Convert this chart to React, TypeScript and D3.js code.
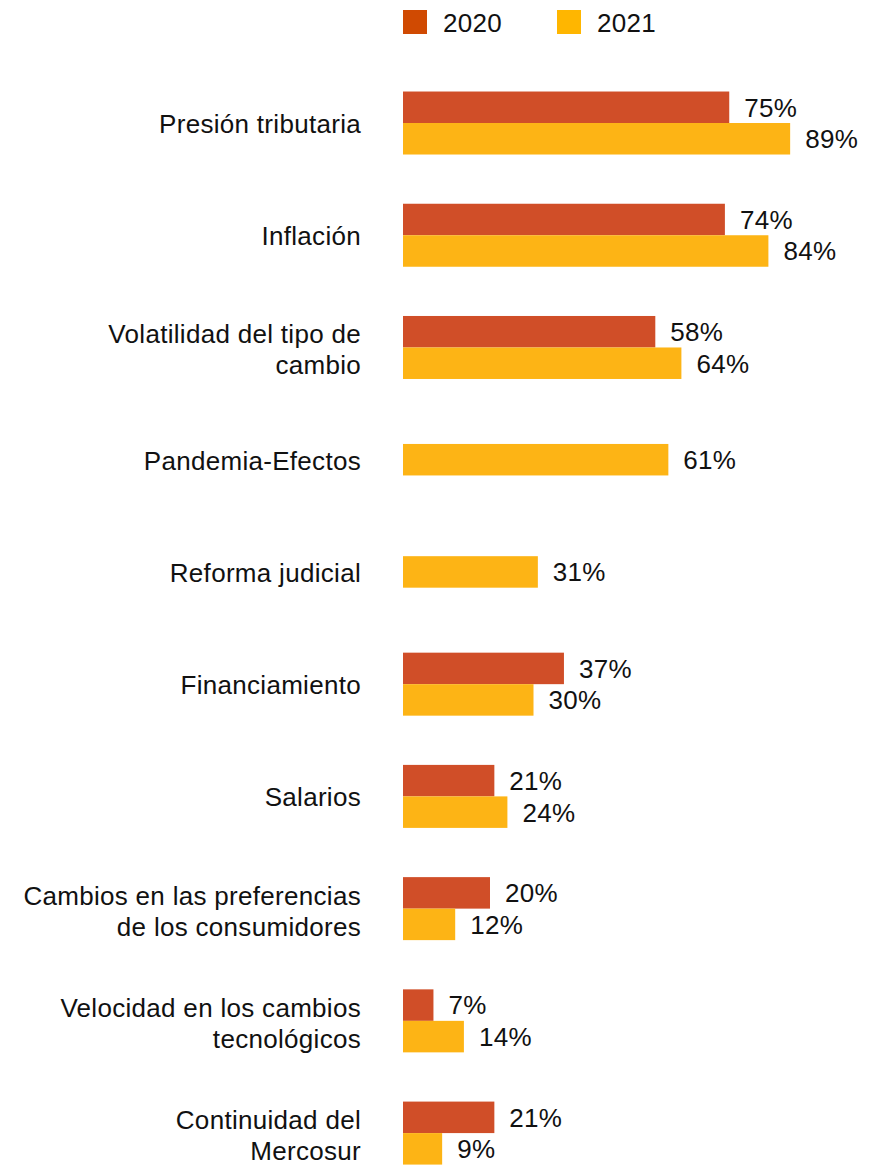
import React, { useEffect, useRef } from 'react';
import * as d3 from 'd3';

// Categorías (cada entrada es una lista de líneas del rótulo)
const categories: string[][] = [
  ['Presión tributaria'],
  ['Inflación'],
  ['Volatilidad del tipo de', 'cambio'],
  ['Pandemia-Efectos'],
  ['Reforma judicial'],
  ['Financiamiento'],
  ['Salarios'],
  ['Cambios en las preferencias', 'de los consumidores'],
  ['Velocidad en los cambios', 'tecnológicos'],
  ['Continuidad del', 'Mercosur'],
];

const years = ['2020', '2021'];

// null = sin dato para ese año
const values2020: (number | null)[] = [75, 74, 58, null, null, 37, 21, 20, 7, 21];
const values2021: (number | null)[] = [89, 84, 64, 61, 31, 30, 24, 12, 14, 9];

const barColors = ['#D04E28', '#FDB415'];
const legendColors = ['#D04A02', '#FFB600'];

const App: React.FC = () => {
  const svgRef = useRef<SVGSVGElement>(null);

  useEffect(() => {
    document.body.style.margin = '0';
    if (!svgRef.current) return;

    const svg = d3.select(svgRef.current);
    svg.selectAll('*').remove();

    const font = '"Liberation Sans", Arial, Helvetica, sans-serif';
    const fontSize = 26;
    const spacing = 0.3;

    const keys = categories.map(c => c.join(' '));

    const x = d3.scaleLinear().domain([0, 100]).range([403, 838]);
    const y = d3.scaleBand<string>()
      .domain(keys)
      .range([66.9, 1189.2])
      .padding(0);

    const barH = 31.5;

    // Leyenda
    const legend = svg.append('g');
    const legendX = [403, 557];
    years.forEach((yr, i) => {
      legend.append('rect')
        .attr('x', legendX[i]).attr('y', 10)
        .attr('width', 24).attr('height', 24)
        .attr('fill', legendColors[i]);
      legend.append('text')
        .attr('x', legendX[i] + 40).attr('y', 32)
        .attr('font-family', font).attr('font-size', fontSize)
        .attr('letter-spacing', spacing)
        .attr('fill', '#111')
        .text(yr);
    });

    const series = [values2020, values2021];

    keys.forEach((key, ci) => {
      const center = (y(key) || 0) + y.bandwidth() / 2;
      const present = years.map((_, si) => series[si][ci]).filter(v => v !== null);
      const inner = d3.scaleBand<string>()
        .domain(present.length === 2 ? years : ['only'])
        .range([center - (barH * present.length) / 2, center + (barH * present.length) / 2]);

      years.forEach((yr, si) => {
        const v = series[si][ci];
        if (v === null) return;
        const y0 = present.length === 2 ? inner(yr)! : inner('only')!;
        svg.append('rect')
          .attr('x', x(0))
          .attr('y', y0)
          .attr('width', x(v) - x(0))
          .attr('height', inner.bandwidth())
          .attr('fill', barColors[si]);
        svg.append('text')
          .attr('x', x(v) + 15)
          .attr('y', y0 + inner.bandwidth() / 2)
          .attr('dy', '0.36em')
          .attr('font-family', font).attr('font-size', fontSize)
          .attr('letter-spacing', spacing)
          .attr('fill', '#111')
          .text(`${v}%`);
      });

      // Rótulo de categoría
      const lines = categories[ci];
      const t = svg.append('text')
        .attr('text-anchor', 'end')
        .attr('font-family', font).attr('font-size', fontSize)
        .attr('letter-spacing', spacing)
        .attr('fill', '#111');
      const first = lines.length === 1 ? center + 10 : center - 4;
      lines.forEach((ln, li) => {
        t.append('tspan')
          .attr('x', 361)
          .attr('y', first + li * 31)
          .text(ln);
      });
    });
  }, []);

  return (
    <svg ref={svgRef} width={892} height={1167} viewBox="0 0 892 1167" style={{ display: 'block' }} />
  );
};

export default App;
